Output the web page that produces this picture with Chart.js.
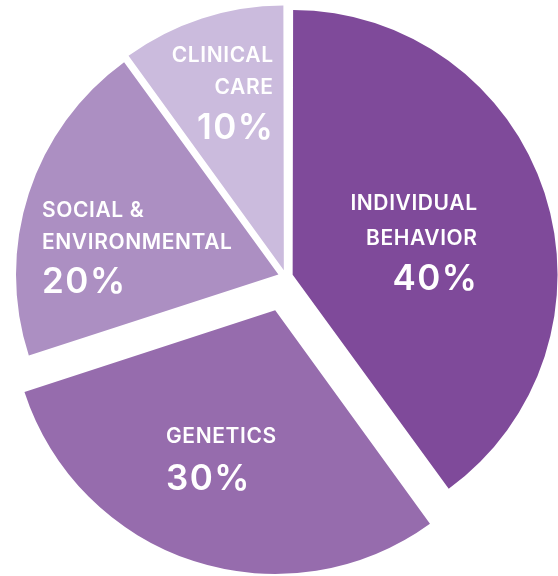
<!DOCTYPE html>
<html>
<head>
<meta charset="utf-8">
<script src="https://cdn.jsdelivr.net/npm/chart.js@4/dist/chart.umd.min.js"></script>
<style>
  html, body { margin: 0; padding: 0; background: #fff; }
  #wrap { width: 558px; height: 576px; }
</style>
</head>
<body>
<div id="wrap"><canvas id="pie" width="558" height="576"></canvas></div>
<script>
// dados do gráfico
const categorias = ['INDIVIDUAL BEHAVIOR', 'GENETICS', 'SOCIAL & ENVIRONMENTAL', 'CLINICAL CARE'];
const percentuais = [40, 30, 20, 10];
const linhasRotulo = [
    ['INDIVIDUAL', 'BEHAVIOR'],
    ['GENETICS'],
    ['SOCIAL &', 'ENVIRONMENTAL'],
    ['CLINICAL', 'CARE']
];

const cores = ['#7F4A9A', '#966CAD', '#AC8FC2', '#CBBBDD'];
// no v4 o offset do arco é dividido por 4 na hora de desenhar
const deslocamentos = [28, 140, 32, 28];

// onde cada rótulo fica: x da âncora, baselines das linhas e do percentual
const layoutRotulos = [
    { x: 477, align: 'right', linhas: [210, 245], pct: 290 },
    { x: 166, align: 'left', linhas: [443], pct: 490 },
    { x: 42, align: 'left', linhas: [217, 249], pct: 293 },
    { x: 273, align: 'right', linhas: [62, 94], pct: 139 }
];

function escreve(ctx, txt, x, y, align, espaco) {
    ctx.letterSpacing = espaco + 'px';
    // o espaçamento entra também depois da última letra
    const ajuste = align === 'right' ? espaco : 0;
    ctx.fillText(txt, x + ajuste, y);
}

const rotulosPlugin = {
    id: 'rotulos',
    afterDatasetsDraw(chart) {
        const ctx = chart.ctx;
        const ds = chart.data.datasets[0];
        ctx.save();
        ctx.fillStyle = '#ffffff';
        ctx.textBaseline = 'alphabetic';
        ds.data.forEach(function (v, i) {
            const l = layoutRotulos[i];
            ctx.textAlign = l.align;
            ctx.font = '600 21px Inter, "Open Sans", sans-serif';
            linhasRotulo[i].forEach(function (txt, j) {
                escreve(ctx, txt, l.x, l.linhas[j], l.align, 0.6);
            });
            ctx.font = '600 35px Inter, "Open Sans", sans-serif';
            escreve(ctx, v + '%', l.x, l.pct, l.align, 1.5);
        });
        ctx.restore();
    }
};

const ctx = document.getElementById('pie').getContext('2d');
window._pieChart = new Chart(ctx, {
    type: 'pie',
    data: {
        labels: categorias,
        datasets: [{
            data: percentuais,
            backgroundColor: cores,
            borderWidth: 0,
            offset: deslocamentos,
            hoverOffset: 0
        }]
    },
    options: {
        responsive: false,
        animation: false,
        radius: 262,
        layout: { padding: { left: 14, right: 0, top: 0, bottom: 22 } },
        plugins: {
            legend: { display: false },
            tooltip: { enabled: false }
        }
    },
    plugins: [rotulosPlugin]
});
</script>
</body>
</html>
